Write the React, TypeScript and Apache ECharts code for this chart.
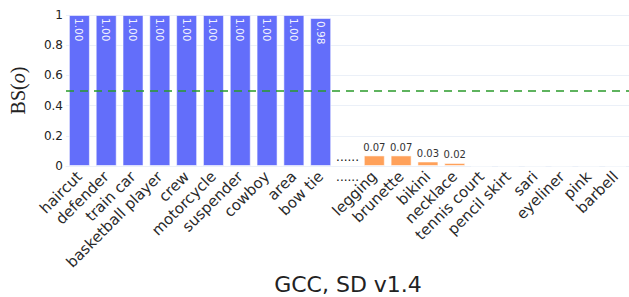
import React, { useEffect, useRef } from "react";
import * as echarts from "echarts";

const categories = [
  "haircut", "defender", "train car", "basketball player", "crew", "motorcycle",
  "suspender", "cowboy", "area", "bow tie", "......", "legging", "brunette",
  "bikini", "necklace", "tennis court", "pencil skirt", "sari", "eyeliner", "pink", "barbell",
];
const SEP = "......";
const blueValues = [1, 1, 1, 1, 1, 1, 1, 1, 1, 0.98];
const orangeValues = [0.07, 0.07, 0.03, 0.02, 0, 0, 0, 0, 0, 0];
const yTicks = [0, 0.2, 0.4, 0.6, 0.8, 1];
const threshold = 0.5;
const titleText = "GCC, SD v1.4";

export default function App() {
  const ref = useRef<HTMLDivElement>(null);
  useEffect(() => {
    document.body.style.margin = "0";
    if (!ref.current) return;
    const chart = echarts.init(ref.current, null, { renderer: "svg" });
    const sepIdx = categories.indexOf(SEP);
    const blueData = categories.map((_, i) => (i < blueValues.length ? blueValues[i] : "-"));
    const orangeData = categories.map((_, i) =>
      i > sepIdx ? orangeValues[i - sepIdx - 1] : "-"
    );
    const sepData = categories.map((_, i) => (i === sepIdx ? 0 : "-"));
    const font = "DejaVu Sans";
    chart.setOption({
      animation: false,
      textStyle: { fontFamily: font },
      title: {
        text: titleText,
        left: 343,
        top: 268,
        textAlign: "center",
        textStyle: { fontFamily: font, fontSize: 22, fontWeight: "normal", color: "#222" },
      },
      grid: { left: 56, top: 15, width: 579, height: 151 },
      xAxis: [
        {
          type: "category",
          data: categories,
          axisLine: { show: true, lineStyle: { color: "#ebf0f8" } },
          axisTick: { show: false },
          axisLabel: {
            interval: 0,
            rotate: 45,
            fontSize: 15,
            margin: 8,
            color: "#2a2a2a",
            fontFamily: font,
            formatter: (v: string) => (v === SEP ? "" : v),
          },
        },
        {
          type: "category",
          data: categories,
          position: "bottom",
          axisLine: { show: false },
          axisTick: { show: false },
          axisLabel: {
            interval: 0,
            rotate: 0,
            fontSize: 12,
            margin: 5,
            color: "#111",
            fontFamily: font,
            formatter: (v: string) => (v === SEP ? v : ""),
          },
        },
      ],
      yAxis: {
        type: "value",
        min: 0,
        max: 1,
        interval: 0.2,
        name: "BS({i|o})",
        nameLocation: "middle",
        nameGap: 38,
        nameTextStyle: {
          fontFamily: "Liberation Serif",
          fontSize: 20,
          color: "#222",
          rich: { i: { fontFamily: "Liberation Serif", fontSize: 20, fontStyle: "italic", color: "#222" } },
        },
        axisLine: { show: false },
        axisTick: { show: false },
        splitLine: { lineStyle: { color: "#ebf0f8", width: 1 } },
        axisLabel: {
          fontSize: 12,
          color: "#222",
          margin: 3,
          fontFamily: font,
          formatter: (v: number) => (yTicks.includes(Number(v.toFixed(1))) ? String(Number(v.toFixed(1))) : ""),
        },
      },
      series: [
        {
          type: "bar",
          data: blueData,
          barWidth: 21,
          barGap: "-100%",
          itemStyle: { color: "#636efa", borderColor: "rgba(255,255,255,0.55)", borderWidth: 1 },
          label: {
            show: true,
            position: "insideTop",
            rotate: -90,
            align: "left",
            verticalAlign: "middle",
            distance: 3,
            fontSize: 10.5,
            color: "rgba(255,255,255,0.92)",
            fontFamily: font,
            formatter: (p: any) => Number(p.value).toFixed(2),
          },
          markLine: {
            silent: true,
            symbol: "none",
            label: { show: false },
            lineStyle: { color: "#2a9a2a", type: [8, 6], width: 1.6 },
            data: [{ yAxis: threshold }],
          },
        },
        {
          type: "bar",
          data: orangeData,
          barWidth: 21,
          barGap: "-100%",
          itemStyle: { color: "#ffa15a", borderColor: "rgba(255,255,255,0.55)", borderWidth: 1 },
          label: {
            show: true,
            position: "top",
            distance: 3,
            fontSize: 10,
            color: "#333",
            fontFamily: font,
            formatter: (p: any) => (Number(p.value) > 0 ? Number(p.value).toFixed(2) : ""),
          },
        },
        {
          type: "bar",
          data: sepData,
          barWidth: 21,
          barGap: "-100%",
          itemStyle: { color: "transparent" },
          label: {
            show: true,
            position: "top",
            distance: 3,
            fontSize: 12,
            color: "#111",
            fontFamily: font,
            formatter: () => SEP,
          },
        },
      ],
    });
    return () => chart.dispose();
  }, []);
  return <div ref={ref} style={{ width: 629, height: 297 }} />;
}
